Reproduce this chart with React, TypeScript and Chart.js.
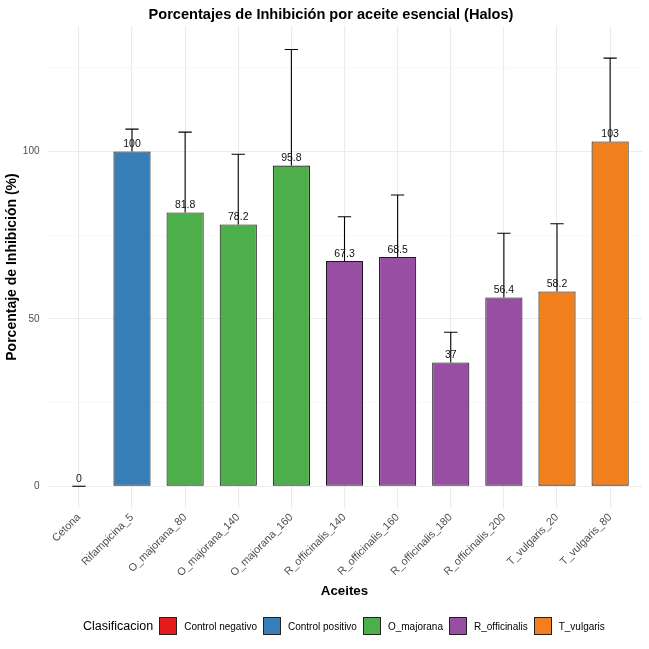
import React, { useEffect, useRef } from 'react';
import { Chart, registerables } from 'chart.js';

Chart.register(...registerables);

const categories = [
  'Cetona', 'Rifampicina_5', 'O_majorana_80', 'O_majorana_140', 'O_majorana_160',
  'R_officinalis_140', 'R_officinalis_160', 'R_officinalis_180', 'R_officinalis_200',
  'T_vulgaris_20', 'T_vulgaris_80',
];
const inhibition = [0, 100, 81.8, 78.2, 95.8, 67.3, 68.5, 37, 56.4, 58.2, 103];
const errors = [0, 6.7, 24.0, 21.0, 34.7, 13.2, 18.5, 9.0, 19.2, 20.2, 24.9];
const groups = [
  'Control negativo', 'Control positivo', 'O_majorana', 'O_majorana', 'O_majorana',
  'R_officinalis', 'R_officinalis', 'R_officinalis', 'R_officinalis',
  'T_vulgaris', 'T_vulgaris',
];
const groupNames = ['Control negativo', 'Control positivo', 'O_majorana', 'R_officinalis', 'T_vulgaris'];
const groupColors = ['#E41A1C', '#377EB8', '#4DAF4A', '#984EA3', '#F07F1C'];
const yTicks = [0, 25, 50, 75, 100, 125];

const FONT = '"Liberation Sans", Arial, sans-serif';

const colorOf = (g: string) => groupColors[groupNames.indexOf(g)];

// error bars (upper half only, ggplot hides the rest behind the bar), then value labels
const barExtras = {
  id: 'barExtras',
  afterDatasetsDraw(chart: any) {
    const { ctx } = chart;
    const yScale = chart.scales.y;
    const xScale = chart.scales.x;
    const meta = chart.getDatasetMeta(0);
    const capHalf = (xScale.getPixelForValue(1) - xScale.getPixelForValue(0)) * 0.125;
    ctx.save();
    ctx.strokeStyle = '#000';
    ctx.lineWidth = 1.1;
    meta.data.forEach((el: any, i: number) => {
      const yUp = yScale.getPixelForValue(inhibition[i] + errors[i]);
      ctx.beginPath();
      ctx.moveTo(el.x, el.y);
      ctx.lineTo(el.x, yUp);
      ctx.moveTo(el.x - capHalf, yUp);
      ctx.lineTo(el.x + capHalf, yUp);
      ctx.stroke();
    });
    ctx.fillStyle = '#111';
    ctx.font = `10.5px ${FONT}`;
    ctx.textAlign = 'center';
    ctx.textBaseline = 'bottom';
    meta.data.forEach((el: any, i: number) => {
      ctx.fillText(String(inhibition[i]), el.x, el.y - 2);
    });
    ctx.restore();
  },
};

const plotTitle = {
  id: 'plotTitle',
  afterDraw(chart: any) {
    const { ctx } = chart;
    ctx.save();
    ctx.fillStyle = '#000';
    ctx.font = `bold 14.6px ${FONT}`;
    ctx.textAlign = 'center';
    ctx.textBaseline = 'alphabetic';
    ctx.fillText('Porcentajes de Inhibición por aceite esencial (Halos)', 331, 19);
    ctx.restore();
  },
};

export default function App() {
  const canvasRef = useRef<HTMLCanvasElement | null>(null);
  const chartRef = useRef<Chart | null>(null);

  useEffect(() => {
    document.body.style.margin = '0';
    if (!canvasRef.current) return;
    if (chartRef.current) chartRef.current.destroy();

    chartRef.current = new Chart(canvasRef.current, {
      type: 'bar',
      data: {
        datasets: [
          {
            data: inhibition.map((v, i) => ({ x: i, y: v })),
            backgroundColor: groups.map(colorOf),
            borderColor: '#1a1a1a',
            borderWidth: inhibition.map(v => (v === 0 ? 0 : 1.1)),
            borderSkipped: false,
            barPercentage: 0.7,
            categoryPercentage: 1,
          },
        ],
      },
      options: {
        animation: false,
        responsive: false,
        layout: { padding: { top: 26, right: 7, bottom: 44, left: 0 } },
        plugins: {
          legend: { display: false },
          title: { display: false },
          tooltip: { enabled: false },
        },
        scales: {
          x: {
            type: 'linear',
            offset: false,
            min: -0.6,
            max: 10.6,
            afterBuildTicks: (scale: any) => {
              scale.ticks = categories.map((_, i) => ({ value: i }));
            },
            afterFit: (scale: any) => {
              scale.height = 97;
            },
            grid: { color: '#EBEBEB', lineWidth: 1.1, drawTicks: false, offset: false },
            border: { display: false },
            ticks: {
              autoSkip: false,
              minRotation: 45,
              maxRotation: 45,
              padding: 3,
              color: '#4D4D4D',
              font: { family: FONT, size: 10.8 },
              callback: (v: any) => categories[v] ?? '',
            },
            title: {
              display: true,
              text: 'Aceites',
              color: '#000',
              font: { family: FONT, size: 13.3, weight: 'bold' },
              padding: { top: 0, bottom: 6 },
            },
          },
          y: {
            min: -6.5,
            max: 137.5,
            afterBuildTicks: (scale: any) => {
              scale.ticks = yTicks.map(v => ({ value: v }));
            },
            afterFit: (scale: any) => {
              scale.width = 47;
            },
            grid: {
              color: (c: any) => (c.tick && c.tick.value % 50 === 0 ? '#EBEBEB' : '#F3F3F3'),
              lineWidth: (c: any) => (c.tick && c.tick.value % 50 === 0 ? 1.1 : 0.6),
              drawTicks: false,
            },
            border: { display: false },
            ticks: {
              padding: 7.5,
              color: '#4D4D4D',
              font: { family: FONT, size: 10 },
              callback: (v: any) => (v % 50 === 0 ? String(v) : ''),
            },
            title: {
              display: true,
              text: 'Porcentaje de Inhibición (%)',
              color: '#000',
              font: { family: FONT, size: 14, weight: 'bold' },
              padding: { top: 4, bottom: 0 },
            },
          },
        },
      },
      plugins: [barExtras, plotTitle],
    } as any);

    return () => {
      if (chartRef.current) {
        chartRef.current.destroy();
        chartRef.current = null;
      }
    };
  }, []);

  return (
    <div style={{ position: 'fixed', top: 0, left: 0, width: 649, height: 649, background: '#fff' }}>
      <canvas ref={canvasRef} width={649} height={649} style={{ width: 649, height: 649, display: 'block' }} />
      <div
        style={{
          position: 'absolute',
          top: 617,
          left: 83,
          height: 18,
          display: 'flex',
          alignItems: 'center',
          fontFamily: FONT,
          color: '#000',
          whiteSpace: 'nowrap',
        }}
      >
        <span style={{ fontSize: 12.5, marginRight: 6 }}>Clasificacion</span>
        {groupNames.map((g, i) => (
          <span key={g} style={{ display: 'flex', alignItems: 'center', marginRight: 6 }}>
            <span
              style={{
                width: 18,
                height: 18,
                boxSizing: 'border-box',
                background: groupColors[i],
                border: '1px solid #222',
                marginRight: 7,
              }}
            />
            <span style={{ fontSize: 10 }}>{g}</span>
          </span>
        ))}
      </div>
    </div>
  );
}
